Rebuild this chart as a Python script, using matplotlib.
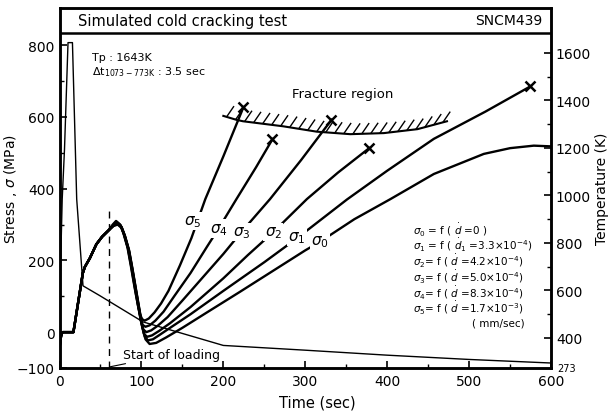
import numpy as np
import matplotlib
matplotlib.use("Agg")
import matplotlib.pyplot as plt
from matplotlib.collections import LineCollection

plt.rcParams['font.family'] = ['DejaVu Sans']
plt.rcParams['mathtext.fontset'] = 'dejavusans'

# ---------------- data ----------------
# temperature history (K)
temp_t = [0, 0.5, 3.3, 6.1, 10.4, 15.8, 21, 28.7, 49, 102, 200, 300, 400, 500, 600]
temp_K = [424, 590, 984, 1194, 1643, 1643, 984, 619, 578, 467, 368, 348, 327, 309, 294]

# common stress part before loading (MPa)
pre_t = [0.5, 1, 2, 3, 4, 17, 28.5, 31, 37, 45, 52, 60]
pre_s = [-35, -25, -10, -3, 0, 0, 165, 182, 206, 245, 266, 284]

# individual stress curves after start of loading
s0_t = [60, 66, 71, 76, 80, 85, 89, 92, 95, 98, 101, 105, 110, 118, 130, 150, 180, 220, 260, 300, 318, 360, 404, 457, 518, 550, 579, 600]
s0_s = [284, 296, 300, 290, 266, 225, 175, 135, 95, 55, 15, -20, -33, -30, -15, 12, 55, 112, 170, 228, 252, 315, 371, 441, 497, 513, 520, 518]

s1_t = [60, 66, 71, 76, 80, 85, 89, 92, 95, 98, 101, 104, 108, 114, 122, 135, 160, 200, 250, 290, 351, 400, 457, 520, 574.6]
s1_s = [284, 297, 302, 292, 268, 228, 178, 138, 98, 58, 20, -12, -23, -20, -8, 12, 50, 115, 195, 262, 370, 450, 539, 615, 685]

s2_t = [60, 66, 70.5, 75.5, 79.5, 84.5, 88.5, 91.5, 94.5, 97.5, 100, 103, 107, 113, 122, 135, 160, 200, 230, 261, 302, 340, 378]
s2_s = [284, 298, 304, 294, 270, 230, 180, 140, 100, 60, 25, -5, -13, -9, 4, 25, 70, 150, 215, 279, 371, 445, 513]

s3_t = [60, 66, 70, 75, 79, 84, 88, 91, 94, 97, 99.5, 102, 106, 112, 120, 132, 150, 175, 200, 222, 257, 295, 332]
s3_s = [284, 299, 306, 296, 272, 232, 182, 142, 102, 62, 30, 8, 0, 5, 18, 42, 88, 153, 218, 279, 371, 480, 592]

s4_t = [60, 66, 69.5, 74.5, 78.5, 83.5, 87.5, 90.5, 93.5, 96.5, 99, 101.5, 105, 110, 117, 127, 140, 160, 180, 194, 216, 240, 260]
s4_s = [284, 300, 308, 298, 274, 234, 184, 144, 104, 66, 36, 20, 15, 19, 32, 57, 100, 165, 238, 288, 371, 460, 538]

s5_t = [60, 65, 69, 74, 78, 83, 87, 90, 93, 96, 98.5, 101, 104, 109, 116, 124, 133, 147, 161, 178, 200, 224.5]
s5_s = [284, 300, 310, 300, 276, 236, 186, 146, 108, 72, 48, 36, 32, 38, 55, 80, 115, 186, 262, 371, 490, 627]

curves_t = [s0_t, s1_t, s2_t, s3_t, s4_t, s5_t]
curves_s = [s0_s, s1_s, s2_s, s3_s, s4_s, s5_s]
fracture_end = [False, True, True, True, True, True]

curve_labels = [r"$\sigma_0$", r"$\sigma_1$", r"$\sigma_2$", r"$\sigma_3$", r"$\sigma_4$", r"$\sigma_5$"]
label_t = [318, 290, 261, 222, 194, 163]
label_s = [255, 265, 279, 279, 288, 310]

# fracture region boundary
frac_t = [200, 216, 224, 273, 314, 355, 396, 437, 473]
frac_s = [603, 592, 588, 574, 559, 552, 555, 566, 588]

legend_lines = [
    r"$\sigma_0$ = f ( $\dot{d}$ =0 )",
    r"$\sigma_1$ = f ( $\dot{d}_1$ =3.3$\times$10$^{-4}$)",
    r"$\sigma_2$= f ( $\dot{d}$ =4.2$\times$10$^{-4}$)",
    r"$\sigma_3$= f ( $\dot{d}$ =5.0$\times$10$^{-4}$)",
    r"$\sigma_4$= f ( $\dot{d}$ =8.3$\times$10$^{-4}$)",
    r"$\sigma_5$= f ( $\dot{d}$ =1.7$\times$10$^{-3}$)",
    "( mm/sec)",
]

x_ticks = [0, 100, 200, 300, 400, 500, 600]
y_ticks = [-100, 0, 200, 400, 600, 800]
t_ticks = [400, 600, 800, 1000, 1200, 1400, 1600]

# ---------------- figure ----------------
fig = plt.figure(figsize=(6.1, 4.14), dpi=100)
ax = fig.add_axes([59.5 / 610, 45 / 414, (551 - 59.5) / 610, (369 - 9.3) / 414])

S_TOP = 903
S_BAND = 835
ax.set_xlim(0, 600)
ax.set_ylim(-100, S_TOP)

ax2 = ax.twinx()
ax2.set_ylim(273, 273 + 1.51 * (S_TOP + 100))

for a in (ax, ax2):
    for sp in a.spines.values():
        sp.set_linewidth(1.8)

# temperature curve
ax2.plot(temp_t, temp_K, color='black', lw=1.0, zorder=3)

# stress curves
for ct, cs, fe in zip(curves_t, curves_s, fracture_end):
    t = pre_t + ct[1:]
    s = pre_s + cs[1:]
    ax.plot(t, s, color='black', lw=1.7, zorder=4, solid_joinstyle='round')
    if fe:
        ax.plot(ct[-1], cs[-1], marker='x', color='black', ms=7, mew=1.8, zorder=5)

# curve labels (white box breaks the lines)
for lab, lt, ls in zip(curve_labels, label_t, label_s):
    ax.text(lt, ls, lab, fontsize=11, ha='center', va='center', zorder=6,
            bbox=dict(boxstyle='square,pad=0.1', fc='white', ec='none'))

# fracture region: boundary and hatch strokes along it
ax.plot(frac_t, frac_s, color='black', lw=1.5, zorder=4)
hatch_t = np.arange(frac_t[0] + 4, frac_t[-1] - 4, 11.0)
hatch_s = np.interp(hatch_t, frac_t, frac_s)
segs = [[(ht, hs), (ht + 9, hs + 30)] for ht, hs in zip(hatch_t, hatch_s)]
ax.add_collection(LineCollection(segs, colors='black', linewidths=1.0, zorder=4))
ax.text(346, 665, "Fracture region", fontsize=9.5, ha='center', va='center')

# start of loading
ax.plot([60, 60], [-100, 339], color='black', lw=1.0, ls=(0, (5, 4)), zorder=2)
ax.annotate("Start of loading", xy=(61, -97), xytext=(77, -62), fontsize=9,
            ha='left', va='center',
            arrowprops=dict(arrowstyle='-', color='black', lw=0.8, shrinkA=0, shrinkB=0))

# title band
ax.axhline(S_BAND, color='black', lw=1.8)
ax.text(22, (S_BAND + S_TOP) / 2, "Simulated cold cracking test", fontsize=10.5,
        ha='left', va='center')
ax.text(590, (S_BAND + S_TOP) / 2, "SNCM439", fontsize=10, ha='right', va='center')

# condition annotations
ax.text(40, 767, "Tp : 1643K", fontsize=8, ha='left', va='center')
ax.text(40, 728, r"$\Delta$t$_{\rm 1073-773K}$ : 3.5 sec", fontsize=8, ha='left', va='center')

# legend text
for i, line in enumerate(legend_lines):
    ha = 'left'
    x = 432
    if i == len(legend_lines) - 1:
        ha = 'right'
        x = 568
    ax.text(x, 290 - i * 44, line, fontsize=7.5, ha=ha, va='center')

# ticks
ax.set_xticks(x_ticks)
ax.set_xticks([50, 150, 250, 350, 450, 550], minor=True)
ax.set_yticks(y_ticks)
ax.set_yticks([100, 300, 500, 700], minor=True)
ax.tick_params(axis='both', which='major', direction='in', length=5, width=1.2, labelsize=10)
ax.tick_params(axis='both', which='minor', direction='in', length=3, width=1.0)
ax.tick_params(axis='x', pad=4)

ax2.set_yticks(t_ticks)
ax2.set_yticks([500, 700, 900, 1100, 1300, 1500], minor=True)
ax2.tick_params(axis='y', which='major', direction='in', length=5, width=1.2, labelsize=10)
ax2.tick_params(axis='y', which='minor', direction='in', length=3, width=1.0)
ax2.text(1.012, 0.0, "273", transform=ax2.transAxes, fontsize=7, ha='left', va='center')

ax.set_xlabel("Time (sec)", fontsize=10.5)
ax.xaxis.set_label_coords(0.525, -0.075)
ax.set_ylabel(r"Stress , $\sigma$ (MPa)", fontsize=10)
ax.yaxis.set_label_coords(-0.082, 0.5)
ax2.set_ylabel("Temperature (K)", fontsize=10)
ax2.yaxis.set_label_coords(1.09, 0.5)

fig.savefig("out.png", dpi=100)
